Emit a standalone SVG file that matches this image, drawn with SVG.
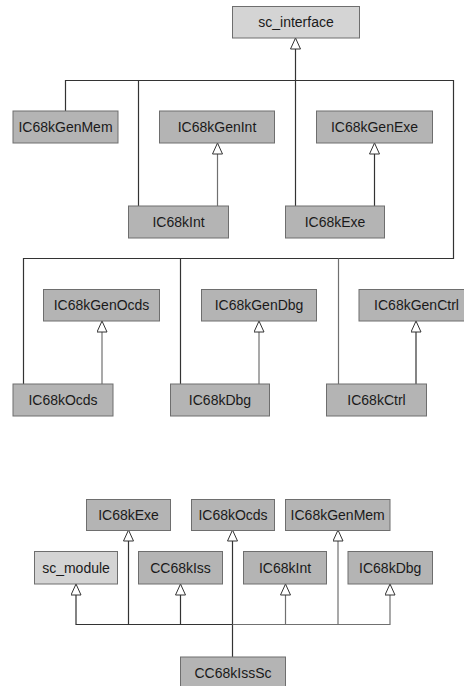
<svg xmlns="http://www.w3.org/2000/svg" width="464" height="686" viewBox="0 0 464 686">
<style>
rect{stroke:#6e6e6e;stroke-width:1}
.d rect{fill:#b4b4b4}
.l rect{fill:#d4d4d4}
text{font-family:"Liberation Sans",Arial,sans-serif;font-size:14px;fill:#1a1a1a;text-anchor:middle}
.e path{fill:none;stroke:#333;stroke-width:1.2}
.e path.g{stroke:#707070}
</style>
<defs>
<marker id="tri" viewBox="0 0 12 11" refX="11.5" refY="5.5" markerWidth="12" markerHeight="11" markerUnits="userSpaceOnUse" orient="auto">
<path d="M0.5,0.5 L11.5,5.5 L0.5,10.5 Z" fill="#fff" stroke="#333" stroke-width="1"/>
</marker>
</defs>
<rect width="464" height="686" fill="#fff" style="stroke:none"/>
<g class="e" id="connectors">
<path d="M65.5,111 V80.5 H295.5"/>
<path d="M138.5,206 V80.5"/>
<path d="M23.5,384 V258.5 H453.5 V80.5 H295.5"/>
<path d="M180.5,384 V258.5"/>
<path d="M338.5,384 V258.5" class="g"/>
<path d="M295.5,206 V38" marker-end="url(#tri)"/>
<path d="M217.5,206 V143" class="g" marker-end="url(#tri)"/>
<path d="M374.5,206 V143" marker-end="url(#tri)"/>
<path d="M102,384 V321" class="g" marker-end="url(#tri)"/>
<path d="M259,384 V321" class="g" marker-end="url(#tri)"/>
<path d="M416,384 V321" marker-end="url(#tri)"/>
<path d="M232.5,657 V530" marker-end="url(#tri)"/>
<path d="M232.5,624.5 H128.5 V530" marker-end="url(#tri)"/>
<path d="M128.5,624.5 H76 V584" marker-end="url(#tri)"/>
<path d="M180.5,624.5 V584" marker-end="url(#tri)"/>
<path d="M232.5,624.5 H390 V584" class="g" marker-end="url(#tri)"/>
<path d="M285.5,624.5 V584" class="g" marker-end="url(#tri)"/>
<path d="M338,624.5 V530" class="g" marker-end="url(#tri)"/>
</g>
<g id="sc_interface" class="l"><rect x="232.5" y="6.5" width="127" height="31.5"/><text x="296" y="27">sc_interface</text></g>
<g id="IC68kGenMem" class="d"><rect x="13" y="111" width="105" height="32"/><text x="65.5" y="132">IC68kGenMem</text></g>
<g id="IC68kGenInt" class="d"><rect x="159.5" y="111" width="115" height="32"/><text x="217" y="132">IC68kGenInt</text></g>
<g id="IC68kGenExe" class="d"><rect x="316.5" y="111" width="116" height="32"/><text x="374.5" y="132">IC68kGenExe</text></g>
<g id="IC68kInt" class="d"><rect x="128.5" y="206" width="100" height="32"/><text x="178.5" y="227">IC68kInt</text></g>
<g id="IC68kExe" class="d"><rect x="285.5" y="206" width="99" height="32"/><text x="335" y="227">IC68kExe</text></g>
<g id="IC68kGenOcds" class="d"><rect x="43.5" y="289.5" width="116" height="31.5"/><text x="101.5" y="310">IC68kGenOcds</text></g>
<g id="IC68kGenDbg" class="d"><rect x="201.5" y="289.5" width="115" height="31.5"/><text x="259" y="310">IC68kGenDbg</text></g>
<g id="IC68kGenCtrl" class="d"><rect x="359" y="289.5" width="115" height="31.5"/><text x="416.5" y="310">IC68kGenCtrl</text></g>
<g id="IC68kOcds" class="d"><rect x="13" y="384" width="100" height="32"/><text x="63" y="405">IC68kOcds</text></g>
<g id="IC68kDbg" class="d"><rect x="170.5" y="384" width="99" height="32"/><text x="220" y="405">IC68kDbg</text></g>
<g id="IC68kCtrl" class="d"><rect x="326.5" y="384" width="100" height="32"/><text x="376.5" y="405">IC68kCtrl</text></g>
<g id="IC68kExe2" class="d"><rect x="86.5" y="499.5" width="84" height="31"/><text x="128.5" y="520">IC68kExe</text></g>
<g id="IC68kOcds2" class="d"><rect x="191.5" y="499.5" width="83" height="31"/><text x="233" y="520">IC68kOcds</text></g>
<g id="IC68kGenMem2" class="d"><rect x="285.5" y="499.5" width="104.5" height="31"/><text x="337.7" y="520">IC68kGenMem</text></g>
<g id="sc_module" class="l"><rect x="34.5" y="551.5" width="83" height="32.5"/><text x="76" y="572.5">sc_module</text></g>
<g id="CC68kIss" class="d"><rect x="138.5" y="551.5" width="84" height="32.5"/><text x="180.5" y="572.5">CC68kIss</text></g>
<g id="IC68kInt2" class="d"><rect x="243.5" y="551.5" width="83" height="32.5"/><text x="285" y="572.5">IC68kInt</text></g>
<g id="IC68kDbg2" class="d"><rect x="348" y="551.5" width="84.5" height="32.5"/><text x="390.2" y="572.5">IC68kDbg</text></g>
<g id="CC68kIssSc" class="d"><rect x="180.5" y="657" width="105" height="32"/><text x="233" y="678">CC68kIssSc</text></g>
</svg>
